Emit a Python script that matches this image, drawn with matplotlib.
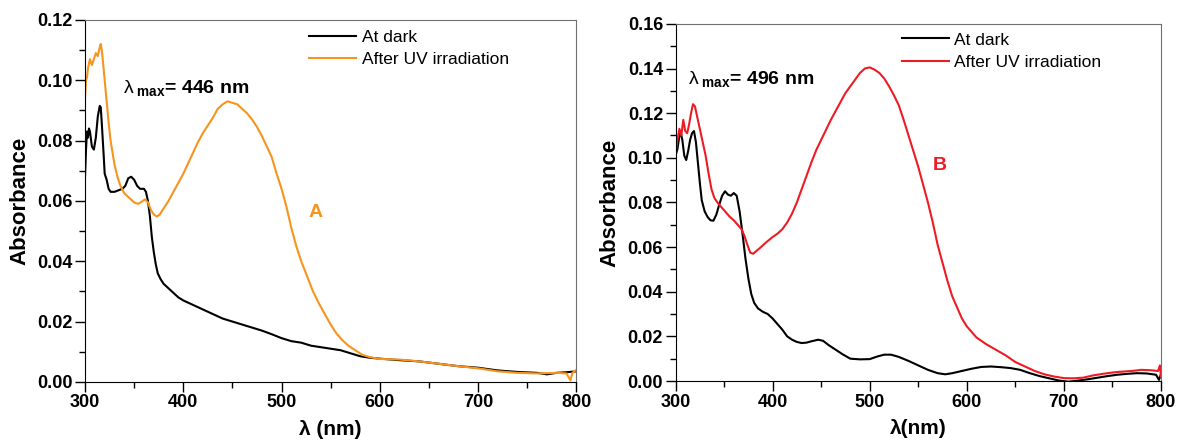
import matplotlib
matplotlib.use("Agg")
import matplotlib.pyplot as plt
from matplotlib.ticker import MultipleLocator, FormatStrFormatter

plt.rcParams['font.family'] = ['Liberation Sans', 'DejaVu Sans']
plt.rcParams['mathtext.fontset'] = 'custom'
plt.rcParams['mathtext.rm'] = 'Liberation Sans'
plt.rcParams['mathtext.bf'] = 'Liberation Sans:bold'
plt.rcParams['mathtext.it'] = 'Liberation Sans'

# ---- panel A data ----
wl_a_dark = [300, 301, 302, 303, 304, 305, 307, 309, 311, 313, 315, 316, 317, 319, 320, 322, 324,
             326, 330, 334, 338, 341, 344, 347, 350, 353, 356, 360, 362, 364, 366, 368, 370, 372,
             374, 377, 380, 385, 390, 395, 400, 410, 420, 430, 440, 450, 460, 470, 480, 490, 500,
             510, 520, 530, 540, 550, 560, 570, 580, 590, 600, 620, 640, 660, 680, 700, 720, 740,
             760, 770, 780, 790, 800]
abs_a_dark = [0.068, 0.077, 0.083, 0.081, 0.084, 0.083, 0.078, 0.077, 0.081, 0.088, 0.0915, 0.091,
              0.086, 0.075, 0.069, 0.067, 0.064, 0.063, 0.063, 0.0635, 0.064, 0.065, 0.0675, 0.068,
              0.067, 0.065, 0.064, 0.064, 0.063, 0.060, 0.055, 0.048, 0.043, 0.039, 0.036, 0.034,
              0.0325, 0.031, 0.0295, 0.028, 0.027, 0.0255, 0.024, 0.0225, 0.021, 0.020, 0.019,
              0.018, 0.017, 0.0158, 0.0145, 0.0135, 0.013, 0.012, 0.0115, 0.011, 0.0105, 0.0095,
              0.0085, 0.008, 0.0077, 0.0072, 0.0068, 0.006, 0.0052, 0.0047, 0.0038, 0.0033, 0.003,
              0.0025, 0.003, 0.0032, 0.0035]

wl_a_uv = [300, 301, 302, 303, 305, 307, 309, 311, 313, 315, 316, 317, 318, 320, 322, 324, 326, 328,
           330, 333, 336, 340, 345, 350, 354, 358, 361, 364, 367, 370, 373, 376, 380, 385, 390, 395,
           400, 405, 410, 415, 420, 425, 430, 435, 440, 445, 450, 455, 460, 465, 470, 475, 480, 485,
           490, 495, 500, 505, 510, 515, 520, 526, 532, 538, 544, 550, 556, 562, 568, 575, 582, 590,
           600, 620, 640, 660, 680, 700, 720, 740, 760, 780, 790, 794, 796, 800]
abs_a_uv = [0.094, 0.100, 0.101, 0.104, 0.107, 0.105, 0.107, 0.109, 0.108, 0.111, 0.112, 0.110,
            0.107, 0.100, 0.093, 0.086, 0.080, 0.076, 0.072, 0.068, 0.065, 0.0625, 0.061, 0.0595,
            0.059, 0.0598, 0.0605, 0.0595, 0.057, 0.0555, 0.0548, 0.0555, 0.0575, 0.060, 0.063,
            0.066, 0.069, 0.0725, 0.076, 0.0795, 0.0825, 0.085, 0.0875, 0.0905, 0.092, 0.093,
            0.0925, 0.092, 0.0905, 0.089, 0.087, 0.0845, 0.0815, 0.078, 0.0745, 0.069, 0.064,
            0.058, 0.051, 0.045, 0.040, 0.035, 0.030, 0.026, 0.0225, 0.019, 0.016, 0.0138, 0.012,
            0.0105, 0.009, 0.0082, 0.0076, 0.0074, 0.0068, 0.006, 0.0052, 0.0045, 0.0035, 0.003,
            0.0028, 0.003, 0.0028, 0.0005, 0.003, 0.004]

# ---- panel B data ----
wl_b_dark = [300, 302, 304, 305, 307, 309, 311, 313, 315, 317, 319, 321, 323, 325, 327, 330, 333,
             336, 339, 342, 345, 348, 351, 354, 357, 360, 363, 366, 369, 372, 375, 378, 381, 385,
             390, 395, 400, 405, 410, 415, 420, 425, 430, 435, 440, 447, 452, 458, 465, 472, 480,
             490, 500, 508, 515, 522, 530, 540, 550, 560, 570, 578, 585, 595, 605, 615, 625, 635,
             645, 655, 665, 675, 685, 695, 705, 715, 725, 735, 745, 755, 765, 775, 785, 795, 798, 800]
abs_b_dark = [0.101, 0.104, 0.110, 0.112, 0.108, 0.101, 0.099, 0.103, 0.108, 0.111, 0.112, 0.107,
              0.098, 0.089, 0.081, 0.076, 0.0735, 0.072, 0.0718, 0.0745, 0.079, 0.083, 0.085,
              0.0835, 0.083, 0.0842, 0.083, 0.076, 0.066, 0.055, 0.046, 0.039, 0.035, 0.0325,
              0.031, 0.030, 0.028, 0.0255, 0.023, 0.020, 0.0185, 0.0175, 0.017, 0.0172, 0.0178,
              0.0185, 0.018, 0.016, 0.014, 0.012, 0.010, 0.0097, 0.0098, 0.011, 0.0118, 0.0118,
              0.0108, 0.009, 0.007, 0.005, 0.0035, 0.003, 0.0035, 0.0045, 0.0055, 0.0063, 0.0065,
              0.0062, 0.0058, 0.005, 0.0035, 0.0022, 0.0012, 0.0002, -0.0003, 0.0002, 0.0008,
              0.0015, 0.0022, 0.0028, 0.0032, 0.0035, 0.0034, 0.0028, 0.0005, 0.003]

wl_b_uv = [300, 302, 304, 306, 308, 310, 312, 314, 316, 318, 320, 322, 325, 328, 331, 334, 337, 340,
           344, 348, 352, 356, 360, 364, 368, 371, 374, 377, 380, 384, 388, 393, 400, 405, 410, 415,
           420, 425, 430, 435, 440, 445, 450, 455, 460, 465, 470, 475, 480, 485, 490, 495, 500, 505,
           510, 515, 520, 525, 530, 535, 540, 545, 550, 555, 560, 565, 570, 575, 580, 585, 590, 595,
           600, 605, 610, 620, 630, 640, 650, 660, 670, 680, 690, 700, 710, 720, 730, 740, 750, 760,
           770, 780, 790, 797, 799, 800]
abs_b_uv = [0.102, 0.108, 0.113, 0.110, 0.117, 0.112, 0.111, 0.115, 0.120, 0.124, 0.123, 0.119,
            0.113, 0.107, 0.101, 0.093, 0.086, 0.082, 0.0795, 0.0775, 0.0755, 0.0735, 0.072, 0.070,
            0.068, 0.065, 0.061, 0.0575, 0.057, 0.0585, 0.060, 0.062, 0.0645, 0.066, 0.068, 0.071,
            0.075, 0.080, 0.086, 0.092, 0.098, 0.1035, 0.108, 0.1125, 0.117, 0.121, 0.125, 0.129,
            0.132, 0.135, 0.138, 0.140, 0.1405, 0.1395, 0.138, 0.1355, 0.132, 0.128, 0.1235, 0.117,
            0.110, 0.103, 0.096, 0.088, 0.080, 0.071, 0.061, 0.053, 0.045, 0.038, 0.033, 0.028,
            0.0245, 0.022, 0.0195, 0.0165, 0.014, 0.0115, 0.0085, 0.0065, 0.0045, 0.003, 0.002,
            0.0013, 0.0012, 0.0015, 0.0025, 0.0032, 0.0038, 0.0042, 0.0045, 0.005, 0.0048, 0.0045,
            0.007, 0.002]

ORANGE = '#f7941d'
RED = '#ed1c24'

fig = plt.figure(figsize=(11.81, 4.42), dpi=100)
ax1 = fig.add_axes([0.072, 0.136, 0.416, 0.819])
ax2 = fig.add_axes([0.572, 0.138, 0.411, 0.808])


def style(ax, ymax, xlabel):
    ax.set_xlim(300, 800)
    ax.set_ylim(0, ymax)
    ax.xaxis.set_major_locator(MultipleLocator(100))
    ax.xaxis.set_minor_locator(MultipleLocator(50))
    ax.yaxis.set_major_locator(MultipleLocator(0.02))
    ax.yaxis.set_minor_locator(MultipleLocator(0.01))
    ax.yaxis.set_major_formatter(FormatStrFormatter('%.2f'))
    ax.tick_params(which='both', direction='out', top=False, right=False, width=1)
    ax.tick_params(which='major', length=7, labelsize=13, pad=2)
    ax.tick_params(which='minor', length=4)
    for lab in ax.get_xticklabels() + ax.get_yticklabels():
        lab.set_fontweight('bold')
    for s in ['top', 'right']:
        ax.spines[s].set_color('#707070')
    for s in ['left', 'bottom']:
        ax.spines[s].set_color('black')
    ax.set_xlabel(xlabel, fontsize=15, fontweight='bold', labelpad=6)
    ax.set_ylabel('Absorbance', fontsize=16, fontweight='bold', labelpad=5)


ax1.plot(wl_a_dark, abs_a_dark, color='black', lw=1.5, label='At dark')
ax1.plot(wl_a_uv, abs_a_uv, color=ORANGE, lw=1.5, label='After UV irradiation')
style(ax1, 0.12, 'λ (nm)')
ax1.text(339, 0.0975, r'$\lambda_{\mathbf{\ max}}$= 446 nm', fontsize=14,
         fontweight='bold', va='center')
ax1.text(535, 0.056, 'A', color=ORANGE, fontsize=14, fontweight='bold', ha='center', va='center')
ax1.legend(loc='upper left', bbox_to_anchor=(0.425, 1.015), frameon=False, fontsize=12.5,
           handlelength=2.7, handletextpad=0.3, labelspacing=0.4)

ax2.plot(wl_b_dark, abs_b_dark, color='black', lw=1.5, label='At dark')
ax2.plot(wl_b_uv, abs_b_uv, color=RED, lw=1.5, label='After UV irradiation')
style(ax2, 0.16, 'λ(nm)')
ax2.text(313, 0.1355, r'$\lambda_{\mathbf{\ max}}$= 496 nm', fontsize=14,
         fontweight='bold', va='center')
ax2.text(572, 0.0966, 'B', color=RED, fontsize=14, fontweight='bold', ha='center', va='center')
ax2.legend(loc='upper left', bbox_to_anchor=(0.435, 1.02), frameon=False, fontsize=12.5,
           handlelength=2.7, handletextpad=0.3, labelspacing=0.4)

fig.savefig('out.png', dpi=100)
